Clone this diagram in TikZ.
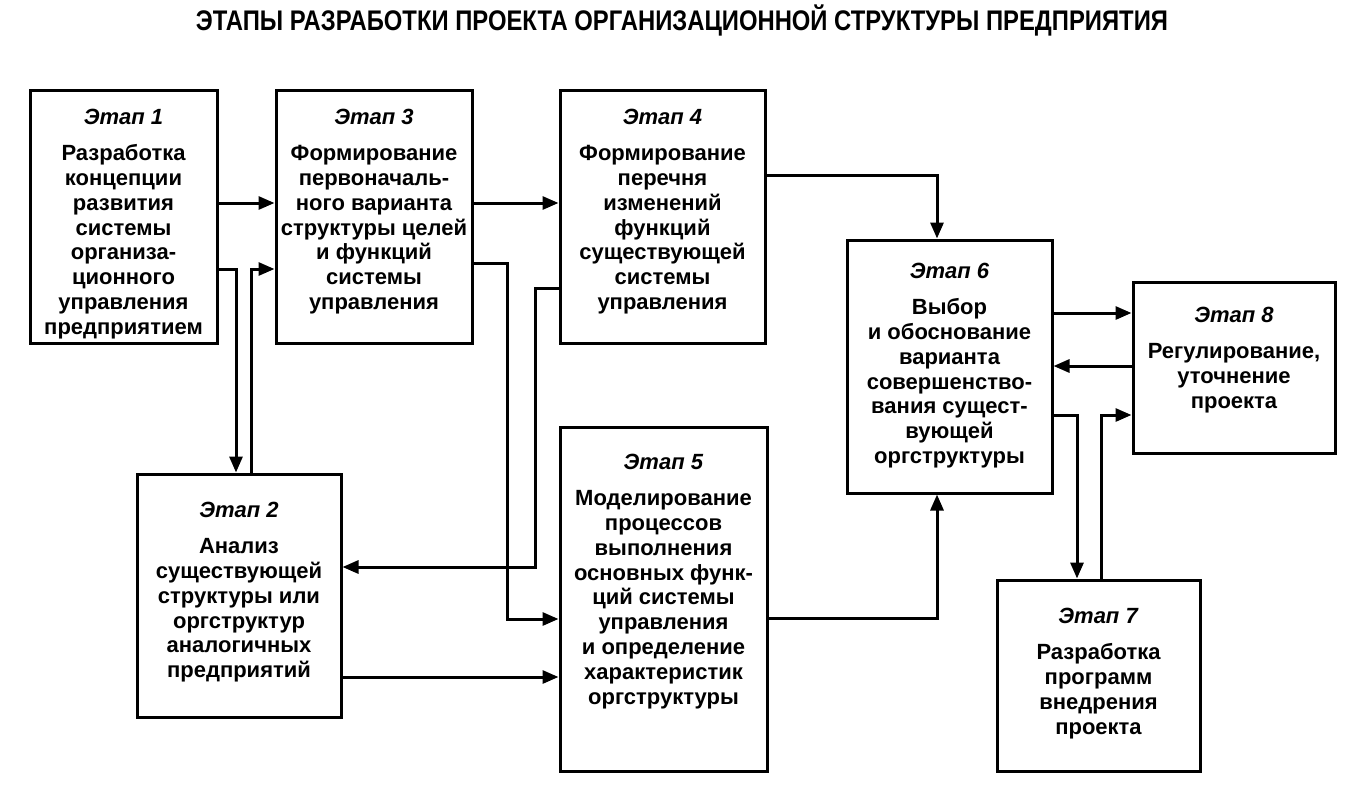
\documentclass[tikz,border=0pt]{standalone}
\usepackage{fontspec}
\setmainfont{Liberation Sans}
\usetikzlibrary{arrows.meta,fit}
\newcommand{\etap}[1]{\textit{Этап #1}\\[5.6pt]}
\tikzset{
  stage/.style={draw, line width=1.5pt, inner sep=0pt},
  stagetext/.style={anchor=north, align=center, inner sep=0pt,
    font=\fontsize{11pt}{12.4pt}\selectfont\bfseries},
  arr/.style={line width=1.5pt, -{Triangle[length=8pt,width=6.5pt]}}
}
\begin{document}
\begin{tikzpicture}[x=0.5pt,y=-0.5pt]
\useasboundingbox (0,0) rectangle (1360,793);

\node (title) at (682,20) {\resizebox{486pt}{!}{\scalebox{0.84}[1]{\bfseries ЭТАПЫ РАЗРАБОТКИ ПРОЕКТА ОРГАНИЗАЦИОННОЙ СТРУКТУРЫ ПРЕДПРИЯТИЯ}}};

\node[stage, fit={(30,90) (217,343)}] (s1) {};
\node[stage, fit={(137,474) (341,717)}] (s2) {};
\node[stage, fit={(276,90) (472,343)}] (s3) {};
\node[stage, fit={(560,90) (765,343)}] (s4) {};
\node[stage, fit={(560,427) (767,771)}] (s5) {};
\node[stage, fit={(847,240) (1052,493)}] (s6) {};
\node[stage, fit={(997,580) (1200,771)}] (s7) {};
\node[stage, fit={(1133,282) (1335,453)}] (s8) {};

\node[stagetext] (t1) at (123.5,109) {\etap{1}Разработка\\концепции\\развития\\системы\\организа-\\ционного\\управления\\предприятием};
\node[stagetext] (t2) at (239,502) {\etap{2}Анализ\\существующей\\структуры или\\оргструктур\\аналогичных\\предприятий};
\node[stagetext] (t3) at (374,109) {\etap{3}Формирование\\первоначаль-\\ного варианта\\структуры целей\\и функций\\системы\\управления};
\node[stagetext] (t4) at (662.5,109) {\etap{4}Формирование\\перечня\\изменений\\функций\\существующей\\системы\\управления};
\node[stagetext] (t5) at (663.5,454) {\etap{5}Моделирование\\процессов\\выполнения\\основных функ-\\ций системы\\управления\\и определение\\характеристик\\оргструктуры};
\node[stagetext] (t6) at (949.5,263) {\etap{6}Выбор\\и обоснование\\варианта\\совершенство-\\вания сущест-\\вующей\\оргструктуры};
\node[stagetext] (t7) at (1098.5,608) {\etap{7}Разработка\\программ\\внедрения\\проекта};
\node[stagetext] (t8) at (1234,307) {\etap{8}Регулирование,\\уточнение\\проекта};

\draw[arr] (s1.east |- 0,203) -- (s3.west |- 0,203);
\draw[arr] (s1.east |- 0,269) -| (236,0 |- s2.north);
\draw[arr] (251,0 |- s2.north) |- (s3.west |- 0,269);
\draw[arr] (s3.east |- 0,203) -- (s4.west |- 0,203);
\draw[arr] (s3.east |- 0,263) -| (507,619) -- (s5.west |- 0,619);
\draw[arr] (s4.west |- 0,288) -| (535,567) -- (s2.east |- 0,567);
\draw[arr] (s2.east |- 0,677) -- (s5.west |- 0,677);
\draw[arr] (s4.east |- 0,175) -| (937,0 |- s6.north);
\draw[arr] (s5.east |- 0,618) -| (937,0 |- s6.south);
\draw[arr] (s6.east |- 0,313) -- (s8.west |- 0,313);
\draw[arr] (s8.west |- 0,366) -- (s6.east |- 0,366);
\draw[arr] (s6.east |- 0,415) -| (1077,0 |- s7.north);
\draw[arr] (1101,0 |- s7.north) |- (s8.west |- 0,415);
\end{tikzpicture}
\end{document}
